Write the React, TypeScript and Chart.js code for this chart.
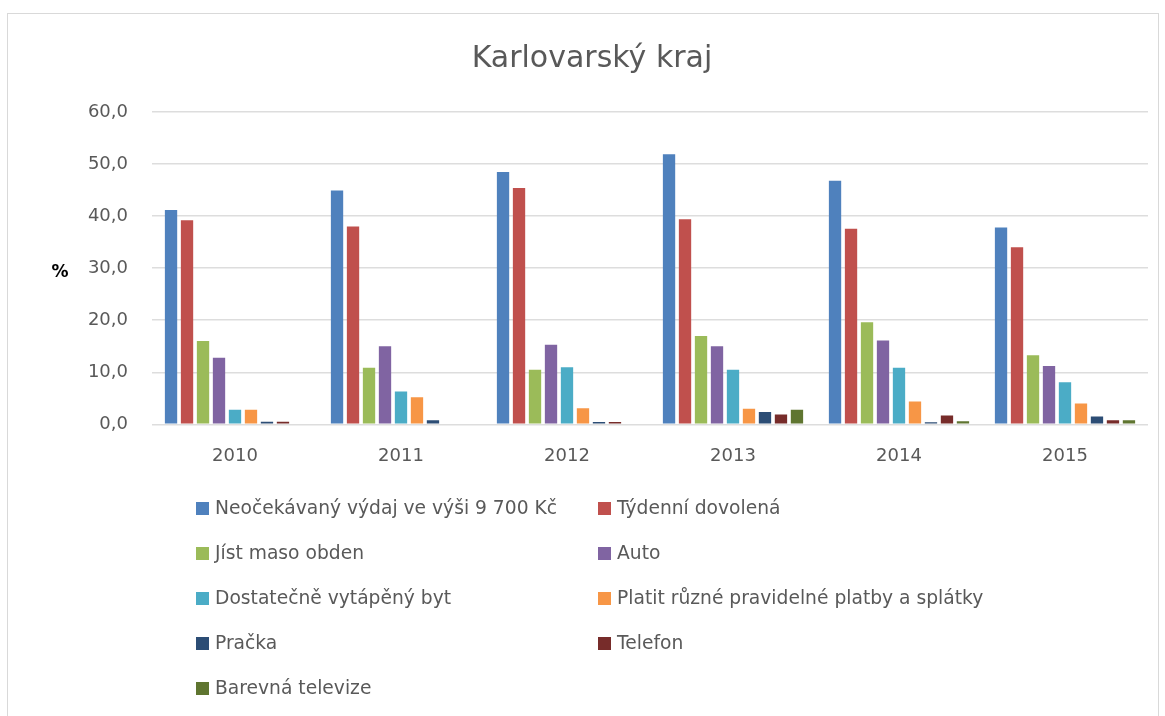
import React, { useEffect, useRef } from "react";
import { Chart, registerables } from "chart.js";

Chart.register(...registerables);

const years = ["2010", "2011", "2012", "2013", "2014", "2015"];
const seriesNames = [
  "Neočekávaný výdaj ve výši 9 700 Kč",
  "Týdenní dovolená",
  "Jíst maso obden",
  "Auto",
  "Dostatečně vytápěný byt",
  "Platit různé pravidelné platby a splátky",
  "Pračka",
  "Telefon",
  "Barevná televize",
];
const neocekavanyVydaj = [41.2, 44.9, 48.5, 51.9, 46.8, 37.8];
const tydenniDovolena = [39.2, 38.0, 45.4, 39.4, 37.6, 34.0];
const jistMaso = [16.0, 10.9, 10.5, 17.0, 19.6, 13.3];
const auto = [12.8, 15.0, 15.3, 15.0, 16.1, 11.2];
const vytapenyByt = [2.8, 6.3, 11.0, 10.5, 10.9, 8.1];
const platby = [2.8, 5.2, 3.1, 3.0, 4.4, 4.0];
const pracka = [0.5, 0.8, 0.45, 2.4, 0.4, 1.5];
const telefon = [0.5, 0, 0.45, 1.9, 1.7, 0.8];
const televize = [0, 0, 0, 2.8, 0.6, 0.8];
const seriesValues = [
  neocekavanyVydaj,
  tydenniDovolena,
  jistMaso,
  auto,
  vytapenyByt,
  platby,
  pracka,
  telefon,
  televize,
];
const colors = [
  "#4F81BD",
  "#C0504D",
  "#9BBB59",
  "#8064A2",
  "#4BACC6",
  "#F79646",
  "#2C4D75",
  "#772C2A",
  "#5F7530",
];
const titleText = "Karlovarský kraj";
const yAxisLabel = "%";

const FONT = "'DejaVu Sans', sans-serif";
const TEXT_COLOR = "#595959";

const decorPlugin = {
  id: "decor",
  beforeDraw(chart: any) {
    const ctx = chart.ctx;
    ctx.save();
    ctx.fillStyle = "#ffffff";
    ctx.fillRect(0, 0, chart.width, chart.height);
    ctx.strokeStyle = "#D9D9D9";
    ctx.lineWidth = 1;
    ctx.strokeRect(7.5, 13.5, 1151, 760);
    ctx.restore();
  },
  afterDraw(chart: any) {
    const ctx = chart.ctx;
    ctx.save();
    // title
    ctx.fillStyle = TEXT_COLOR;
    ctx.font = `30px ${FONT}`;
    ctx.textAlign = "center";
    ctx.textBaseline = "middle";
    ctx.fillText(titleText, 592, 59);
    // % label
    ctx.fillStyle = "#000000";
    ctx.font = `bold 17px ${FONT}`;
    ctx.fillText(yAxisLabel, 60, 273);
    // legend
    ctx.font = `18.7px ${FONT}`;
    ctx.textAlign = "left";
    const ds = chart.data.datasets;
    for (let i = 0; i < ds.length; i++) {
      const col = i % 2;
      const row = Math.floor(i / 2);
      const mx = col === 0 ? 196 : 598;
      const y = 508 + row * 45;
      ctx.fillStyle = ds[i].backgroundColor;
      ctx.fillRect(mx, y - 6, 13, 13);
      ctx.fillStyle = TEXT_COLOR;
      ctx.fillText(ds[i].label, mx + 19, y + 1);
    }
    ctx.restore();
  },
};

export default function App() {
  const ref = useRef<HTMLCanvasElement | null>(null);
  useEffect(() => {
    if (!ref.current) return;
    const chart = new Chart(ref.current, {
      type: "bar",
      data: {
        labels: years,
        datasets: seriesNames.map((name, i) => ({
          label: name,
          data: seriesValues[i],
          backgroundColor: colors[i],
          borderWidth: 0,
          categoryPercentage: 0.867,
          barPercentage: 0.77,
        })),
      },
      options: {
        responsive: false,
        animation: false,
        layout: { padding: { left: 0, right: 17, top: 112, bottom: 228 } },
        plugins: {
          legend: { display: false },
          title: { display: false },
          tooltip: { enabled: false },
        },
        scales: {
          x: {
            grid: { display: false, drawTicks: false },
            border: { display: false },
            ticks: {
              color: TEXT_COLOR,
              font: { family: FONT, size: 18 },
              padding: 21,
            },
          },
          y: {
            min: 0,
            max: 60,
            afterFit: (s: any) => {
              s.width = 152;
            },
            grid: { color: "#DDDDDD", lineWidth: 1.6, drawTicks: false },
            border: { display: false },
            ticks: {
              stepSize: 10,
              color: TEXT_COLOR,
              font: { family: FONT, size: 18 },
              padding: 24,
              callback: (v: any) => Number(v).toFixed(1).replace(".", ","),
            },
          },
        },
      },
      plugins: [decorPlugin],
    });
    return () => chart.destroy();
  }, []);
  return (
    <div style={{ position: "fixed", left: 0, top: 0, width: 1165, height: 716, background: "#fff" }}>
      <canvas ref={ref} width={1165} height={716} />
    </div>
  );
}
